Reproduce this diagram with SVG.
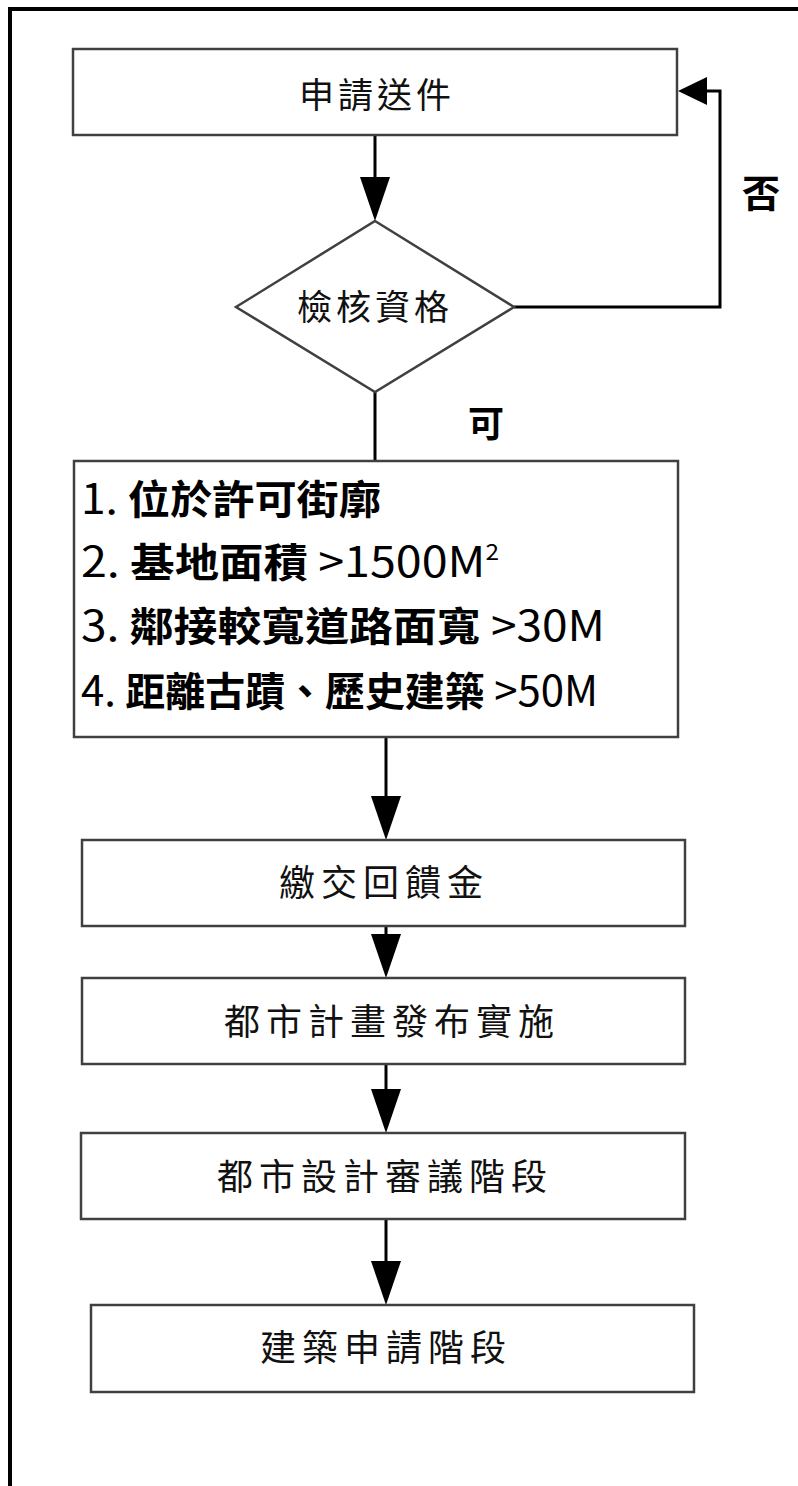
<svg xmlns="http://www.w3.org/2000/svg" width="798" height="1486" viewBox="0 0 798 1486">
  <style>
    .box { fill: #ffffff; stroke: #404040; stroke-width: 2.5; }
    .conn { fill: none; stroke: #000000; stroke-width: 3; }
    .t { font-family: "Noto Sans CJK TC", "Noto Sans CJK SC", sans-serif; fill: #111111; text-anchor: middle; }
    .t1 { font-size: 35px; letter-spacing: 4px; }
    .t2 { font-size: 36px; letter-spacing: 6px; }
    .crit { font-family: "Noto Sans CJK TC", "Noto Sans CJK SC", sans-serif; font-size: 40px; font-weight: bold; fill: #000000; }
    .lat { font-weight: normal; font-size: 42px; }
    .sup { font-weight: normal; font-size: 22px; }
    .lbl { font-family: "Noto Sans CJK TC", "Noto Sans CJK SC", sans-serif; font-weight: bold; fill: #000000; text-anchor: middle; }
  </style>
  <defs>
    <marker id="arrowV" viewBox="0 0 44 30" refX="24" refY="15" markerWidth="44" markerHeight="30" markerUnits="userSpaceOnUse" orient="auto">
      <path d="M0,0 L44,15 L0,30 Z" fill="#000000"/>
    </marker>
    <marker id="arrowH" viewBox="0 0 29 28" refX="9" refY="14" markerWidth="29" markerHeight="28" markerUnits="userSpaceOnUse" orient="auto">
      <path d="M0,0 L29,14 L0,28 Z" fill="#000000"/>
    </marker>
  </defs>

  <rect x="0" y="0" width="798" height="1486" fill="#ffffff"/>
  <path d="M10,1486 V9 H798" fill="none" stroke="#000000" stroke-width="4"/>

  <g id="connectors">
    <path class="conn" d="M375,135 V201" marker-end="url(#arrowV)"/>
    <path class="conn" d="M514,307 H720 V91 H698" marker-end="url(#arrowH)"/>
    <path class="conn" d="M375,392 V461"/>
    <path class="conn" d="M386,737 V820" marker-end="url(#arrowV)"/>
    <path class="conn" d="M386,926 V958" marker-end="url(#arrowV)"/>
    <path class="conn" d="M386,1064 V1113" marker-end="url(#arrowV)"/>
    <path class="conn" d="M386,1219 V1285" marker-end="url(#arrowV)"/>
  </g>

  <g id="label-no">
    <text class="lbl" x="761" y="207" font-size="38">否</text>
  </g>
  <g id="label-yes">
    <text class="lbl" x="486" y="437" font-size="36">可</text>
  </g>

  <g id="node-submit">
    <rect class="box" x="73" y="49" width="604" height="86"/>
    <text class="t t1" x="377" y="108">申請送件</text>
  </g>

  <g id="node-check">
    <polygon class="box" points="375,221 514,307 375,392 236,307"/>
    <text class="t t1" x="375" y="320">檢核資格</text>
  </g>

  <g id="node-criteria">
    <rect class="box" x="74" y="461" width="604" height="276"/>
    <text class="crit" x="81" y="514" textLength="300" lengthAdjust="spacingAndGlyphs"><tspan class="lat">1. </tspan>位於許可街廓</text>
    <text class="crit" x="81" y="577" textLength="418" lengthAdjust="spacingAndGlyphs"><tspan class="lat">2. </tspan>基地面積<tspan class="lat"> &gt;1500M</tspan><tspan class="sup" dy="-17">2</tspan></text>
    <text class="crit" x="81" y="641" textLength="524" lengthAdjust="spacingAndGlyphs"><tspan class="lat">3. </tspan>鄰接較寬道路面寬<tspan class="lat"> &gt;30M</tspan></text>
    <text class="crit" x="81" y="706" textLength="517" lengthAdjust="spacingAndGlyphs"><tspan class="lat">4. </tspan>距離古蹟、歷史建築<tspan class="lat"> &gt;50M</tspan></text>
  </g>

  <g id="node-fee">
    <rect class="box" x="82" y="840" width="603" height="86"/>
    <text class="t t2" x="384" y="896">繳交回饋金</text>
  </g>

  <g id="node-plan">
    <rect class="box" x="82" y="978" width="603" height="86"/>
    <text class="t t2" x="392" y="1035">都市計畫發布實施</text>
  </g>

  <g id="node-review">
    <rect class="box" x="81" y="1133" width="604" height="86"/>
    <text class="t t2" x="385" y="1190">都市設計審議階段</text>
  </g>

  <g id="node-build">
    <rect class="box" x="91" y="1305" width="603" height="87"/>
    <text class="t t2" x="386" y="1361">建築申請階段</text>
  </g>
</svg>
